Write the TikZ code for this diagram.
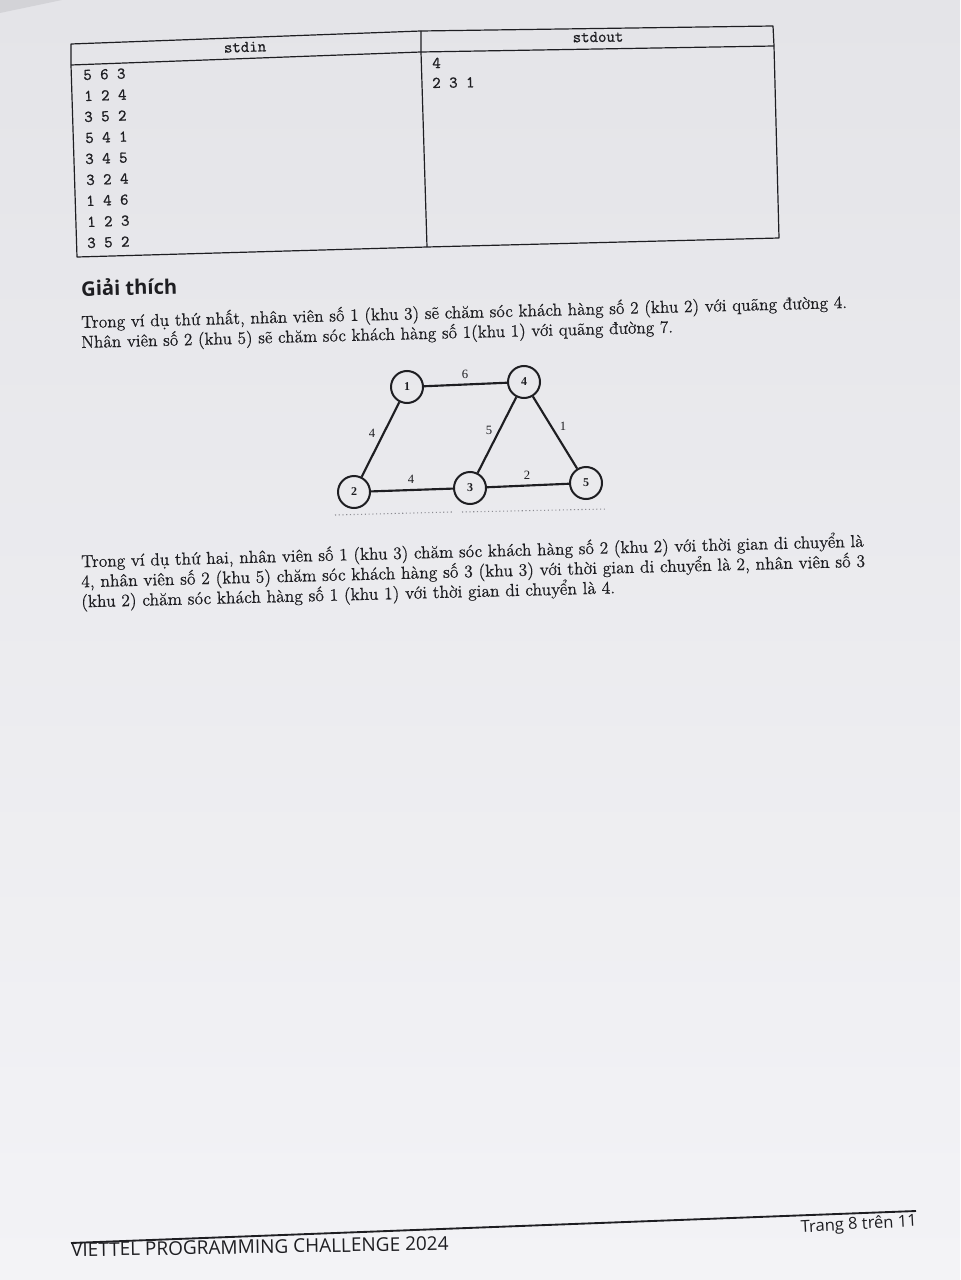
\documentclass[tikz,border=0pt]{standalone}
\usepackage{graphicx}
\usepackage{fontspec}
\setmainfont{Latin Modern Roman}[UprightFeatures={FakeBold=0.5}]
\setmonofont{Latin Modern Mono}[UprightFeatures={FakeBold=0.9}]
\setsansfont{Open Sans}
\newfontfamily\timesf{Liberation Serif}
\definecolor{ink}{RGB}{30,30,34}
\definecolor{pagetop}{RGB}{228,228,232}
\definecolor{pagebot}{RGB}{243,243,246}
\definecolor{foldgray}{RGB}{200,200,205}
\definecolor{dotgray}{RGB}{140,140,146}
\tikzset{
  bodyline/.style={anchor=west, inner sep=0pt, rotate=1.5, text=ink, font=\fontsize{12}{14}\selectfont},
  headline/.style={anchor=west, inner sep=0pt, rotate=1.5, text=ink, font=\sffamily\bfseries\fontsize{14}{16}\selectfont},
  cellnum/.style={anchor=west, inner sep=0pt, rotate=2, text=ink, font=\ttfamily\fontsize{12.3}{14}\selectfont},
  cellnumr/.style={anchor=west, inner sep=0pt, rotate=1, text=ink, font=\ttfamily\fontsize{12.3}{14}\selectfont},
  cellhead/.style={inner sep=0pt, text=ink, font=\ttfamily\fontsize{12.3}{14}\selectfont},
  tabline/.style={draw=ink, line width=0.9pt, line join=round},
  vtx/.style={circle, draw=ink, line width=1.5pt, minimum size=24pt, inner sep=0pt, text=ink, font=\timesf\bfseries\fontsize{9}{10}\selectfont},
  edgeline/.style={draw=ink, line width=1.6pt},
  elab/.style={inner sep=0pt, text=ink, font=\timesf\fontsize{9.5}{11}\selectfont},
  footline/.style={draw=ink, line width=1.4pt},
  foottext/.style={inner sep=0pt, text=ink, font=\sffamily\fontsize{13}{15}\selectfont}
}
\begin{document}
\begin{tikzpicture}[x=0.75pt,y=-0.75pt]
\useasboundingbox (0,0) rectangle (960,1280);
\shade[top color=pagetop, bottom color=pagebot] (0,0) rectangle (960,1280);
\fill[foldgray, opacity=0.6] (0,0) -- (62,0) -- (0,13) -- cycle;

% ---------- table ----------
\coordinate (tTL) at (71,44);
\coordinate (tTM) at (421,31);
\coordinate (tTR) at (773,26);
\coordinate (tHL) at (71,65);
\coordinate (tHM) at (421,52);
\coordinate (tHR) at (774,46);
\coordinate (tBL) at (77,257);
\coordinate (tBM) at (427,247);
\coordinate (tBR) at (779,238);
\draw[tabline] (tTL) -- (tTM) -- (tTR) -- (tHR) -- (tBR) -- (tBM) -- (tBL) -- (tHL) -- cycle;
\draw[tabline] (tHL) -- (tHM) -- (tHR);
\draw[tabline] (tTM) -- (tHM) -- (tBM);

\node[cellhead, rotate=2] (hin) at (245,47) {stdin};
\node[cellhead, rotate=0.8] (hout) at (598,37) {stdout};

\node[cellnum] (r1) at (83,75) {5 6 3};
\node[cellnum] (r2) at (84,96) {1 2 4};
\node[cellnum] (r3) at (84,117) {3 5 2};
\node[cellnum] (r4) at (85,138) {5 4 1};
\node[cellnum] (r5) at (85,159) {3 4 5};
\node[cellnum] (r6) at (86,180) {3 2 4};
\node[cellnum] (r7) at (86,201) {1 4 6};
\node[cellnum] (r8) at (87,222) {1 2 3};
\node[cellnum] (r9) at (87,243) {3 5 2};
\node[cellnumr] (o1) at (432,63) {4};
\node[cellnumr] (o2) at (432,83) {2 3 1};

% ---------- explanation ----------
\node[headline] (gt) at (81,288) {\resizebox{72pt}{!}{Giải thích}};
\node[bodyline] (l1) at (81,323) {\resizebox{574.5pt}{!}{Trong ví dụ thứ nhất, nhân viên số 1 (khu 3) sẽ chăm sóc khách hàng số 2 (khu 2) với quãng đường 4.}};
\node[bodyline] (l2) at (81,343) {\resizebox{444pt}{!}{Nhân viên số 2 (khu 5) sẽ chăm sóc khách hàng số 1(khu 1) với quãng đường 7.}};

% ---------- graph ----------
\node[vtx] (n1) at (407,387) {1};
\node[vtx] (n4) at (524,382) {4};
\node[vtx] (n2) at (354,492) {2};
\node[vtx] (n3) at (470,488) {3};
\node[vtx] (n5) at (586,483) {5};
\draw[edgeline] (n1) -- (n4);
\draw[edgeline] (n1) -- (n2);
\draw[edgeline] (n2) -- (n3);
\draw[edgeline] (n4) -- (n3);
\draw[edgeline] (n4) -- (n5);
\draw[edgeline] (n3) -- (n5);
\node[elab] (e14) at (465,374) {6};
\node[elab] (e12) at (372,433) {4};
\node[elab] (e23) at (411,479) {4};
\node[elab] (e43) at (489,430) {5};
\node[elab] (e45) at (563,426) {1};
\node[elab] (e35) at (527,475) {2};
\coordinate (dA) at (335,515);
\coordinate (dB) at (452,512);
\coordinate (dC) at (462,512);
\coordinate (dD) at (607,509);
\draw[dotgray, line width=0.8pt, dotted] (dA) -- (dB);
\draw[dotgray, line width=0.8pt, dotted] (dC) -- (dD);

% ---------- second explanation ----------
\node[bodyline] (l5) at (81,562) {\resizebox{587pt}{!}{Trong ví dụ thứ hai, nhân viên số 1 (khu 3) chăm sóc khách hàng số 2 (khu 2) với thời gian di chuyển là}};
\node[bodyline] (l6) at (81,582) {\resizebox{588pt}{!}{4, nhân viên số 2 (khu 5) chăm sóc khách hàng số 3 (khu 3) với thời gian di chuyển là 2, nhân viên số 3}};
\node[bodyline] (l7) at (81,602) {\resizebox{400.5pt}{!}{(khu 2) chăm sóc khách hàng số 1 (khu 1) với thời gian di chuyển là 4.}};

% ---------- footer ----------
\coordinate (fl) at (71,1243);
\coordinate (fr) at (916,1211);
\draw[footline] (fl) -- (fr);
\node[foottext, anchor=west, rotate=1] (ftl) at (71,1250) {\resizebox{283pt}{!}{VIETTEL PROGRAMMING CHALLENGE 2024}};
\node[foottext, anchor=east, rotate=3] (ftr) at (917,1222) {\resizebox{87pt}{!}{Trang 8 trên 11}};
\end{tikzpicture}
\end{document}
